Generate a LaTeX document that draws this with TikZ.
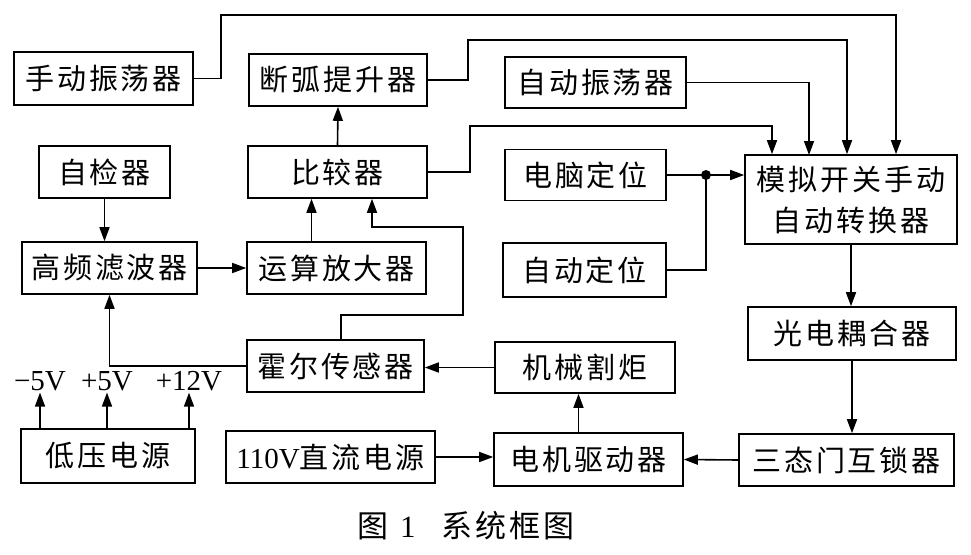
\documentclass[tikz,border=0pt]{standalone}
\usepackage{fontspec}
\setmainfont{Liberation Serif}
\newfontfamily\cjk{Noto Sans CJK SC}[LetterSpace=10]
\usetikzlibrary{arrows.meta}
\begin{document}
\begin{tikzpicture}[x=1pt,y=-1pt,line width=1.6pt,
  box/.style={draw,rectangle,inner sep=0pt,font=\cjk\fontsize{29}{41}\selectfont},
  arr/.style={-{Triangle[length=14pt,width=10pt]}},
  lbl/.style={inner sep=1pt,font=\fontsize{29}{30}\selectfont}]
\fill[white] (0,0) rectangle (971,554);
\useasboundingbox (0,0) rectangle (971,554);
% boxes
\node[box,minimum width=179pt,minimum height=53pt] (m1) at (103.5,78.5) {手动振荡器};
\node[box,minimum width=178pt,minimum height=52pt] (dh) at (338,80) {断弧提升器};
\node[box,minimum width=181pt,minimum height=51pt] (zd) at (595.5,82.5) {自动振荡器};
\node[box,minimum width=131pt,minimum height=52pt] (zj) at (104.5,172) {自检器};
\node[box,minimum width=179pt,minimum height=52pt] (bj) at (337.5,172) {比较器};
\node[box,minimum width=161pt,minimum height=51pt] (dn) at (585.5,175) {电脑定位};
\node[box,minimum width=212pt,minimum height=89pt,align=center] (mn) at (851,199.5) {模拟开关手动\\自动转换器};
\node[box,minimum width=175pt,minimum height=52pt] (gp) at (109.5,268) {高频滤波器};
\node[box,minimum width=179pt,minimum height=52pt] (ys) at (336.5,268) {运算放大器};
\node[box,minimum width=163pt,minimum height=54pt] (zw) at (584.5,270) {自动定位};
\node[box,minimum width=208pt,minimum height=53pt] (gd) at (852,333.5) {光电耦合器};
\node[box,minimum width=177pt,minimum height=52pt] (he) at (335.5,366) {霍尔传感器};
\node[box,minimum width=180pt,minimum height=51pt] (jx) at (585,367.5) {机械割炬};
\node[box,minimum width=174pt,minimum height=54pt] (dy) at (108,456) {低压电源};
\node[box,minimum width=209pt,minimum height=52pt] (dc) at (330.5,457) {{\rmfamily 110V}直流电源};
\node[box,minimum width=189pt,minimum height=53pt] (dj) at (588.5,459.5) {电机驱动器};
\node[box,minimum width=215pt,minimum height=52pt] (st) at (846.5,460) {三态门互锁器};
% voltage labels
\node[lbl] (v1) at (40,381) {−5V};
\node[lbl] (v2) at (107,381) {+5V};
\node[lbl] (v3) at (189,381) {+12V};
% caption
\node[inner sep=0pt,font=\fontsize{31}{34}\selectfont] (cap) at (466,526) {\cjk 图\hspace{12pt}{\rmfamily 1}\hspace{26pt}系统框图};
% connectors
\coordinate (p1) at (221,15); \coordinate (q1) at (896,15);
\draw[arr] (m1.east) -| (p1) -- (q1) -- (q1 |- mn.north);
\coordinate (p2) at (468,40); \coordinate (q2) at (847,40);
\draw[arr] (dh.east) -| (p2) -- (q2) -- (q2 |- mn.north);
\coordinate (q3) at (809,155);
\draw[arr] (zd.east) -| (q3);
\coordinate (p4) at (470,126); \coordinate (q4) at (772,126);
\draw[arr] (bj.east) -| (p4) -- (q4) -- (q4 |- mn.north);
\coordinate (dot) at (706,175);
\draw[arr] (dn.east) -- (dn.east -| mn.west);
\draw (zw.east) -| (dot);
\fill (dot) circle (5pt);
\draw[arr] (mn.south) -- (mn.south |- gd.north);
\draw[arr] (gd.south) -- (gd.south |- st.north);
\draw[arr] (st.west) -- (dj.east);
\draw[arr] ([xshift=-10pt]dj.north) -- ([xshift=-10pt]dj.north |- jx.south);
\draw[arr] (jx.west) -- (jx.west -| he.east);
\draw[arr] (dc.east) -- (dc.east -| dj.west);
\draw[arr] (he.west) -| (gp.south);
\coordinate (h1) at (341,315); \coordinate (h2) at (463,227); \coordinate (h3) at (372,227);
\draw[arr] (h1 |- he.north) -- (h1) -| (h2) -- (h3) -- (h3 |- bj.south);
\draw[arr] ([xshift=-25pt]ys.north) -- ([xshift=-25pt]ys.north |- bj.south);
\draw[arr] (gp.east) -- (ys.west);
\draw[arr] (zj.south) -- (zj.south |- gp.north);
\draw[arr] (bj.north) -- (dh.south);
\draw[arr] (dy.north -| v1) -- (v1.south);
\draw[arr] (dy.north -| v2) -- (v2.south);
\draw[arr] (dy.north -| v3) -- (v3.south);
\end{tikzpicture}
\end{document}
